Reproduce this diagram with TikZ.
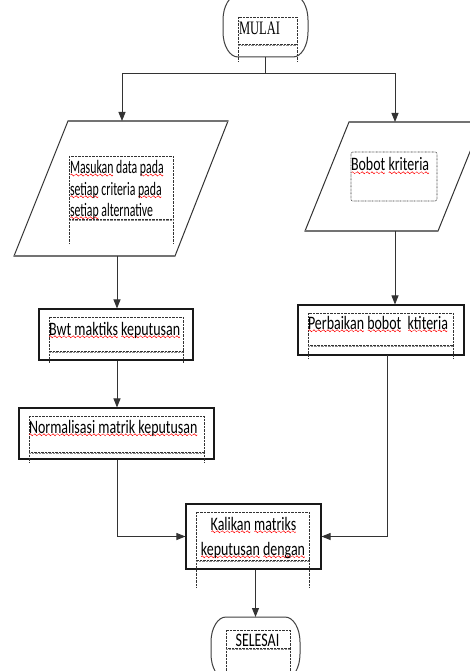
\documentclass[tikz,border=0pt]{standalone}
\usepackage{fontspec}
\usetikzlibrary{arrows.meta}
\newfontfamily\wsans[FakeStretch=0.735]{Carlito}
\newfontfamily\wsansn[FakeStretch=0.62]{Carlito}
\newfontfamily\wserif[FakeStretch=0.66]{Liberation Serif}
\newsavebox\wavebox
\newsavebox\sqbox
\newcommand\sq[1]{\sbox\sqbox{#1}\rlap{\raisebox{-3pt}[0pt][0pt]{\hbox to \wd\sqbox{\xleaders\copy\wavebox\hfill}}}\usebox\sqbox}
\newcommand\wtbox[5]{%
  \draw[dotbox] (#1,#2) rectangle (#3,#4);
  \draw[dotbox] (#1,#4) -- (#1,#5) (#3,#4) -- (#3,#5);
  \draw[dotbox,black!45,line width=1pt] (#1,#4+1.5) -- (#3,#4+1.5);}
\tikzset{
  box/.style={draw=black!90, line width=1.1pt, inner sep=0, fill=none},
  ghost/.style={inner sep=0, outer sep=0},
  para/.style={draw=black!80, line width=1pt, line join=miter},
  term/.style={draw=black!75, line width=1pt},
  conn/.style={draw=black!80, line width=0.9pt},
  arr/.style={conn, -{Triangle[length=9pt,width=7pt]}},
  dotbox/.style={draw=black!80, line width=0.6pt, dash pattern=on 0.7pt off 0.7pt},
  txt/.style={inner sep=0, outer sep=0, anchor=base west, font=\wsans\fontsize{19}{21}\selectfont},
  ntxt/.style={txt, font=\wsansn\fontsize{19}{21}\selectfont},
  ctxt/.style={txt, anchor=base}
}
\begin{document}
\sbox\wavebox{\pgfpicture\pgfsetlinewidth{0.5pt}\pgfsetstrokecolor{red}\pgfpathmoveto{\pgfpoint{0pt}{0pt}}\pgfpathlineto{\pgfpoint{1pt}{1pt}}\pgfpathlineto{\pgfpoint{3pt}{-1pt}}\pgfpathlineto{\pgfpoint{4pt}{0pt}}\pgfusepath{stroke}\endpgfpicture}%
\begin{tikzpicture}[x=1pt,y=-1pt]
\useasboundingbox (0,0) rectangle (470,671);
\clip (0,0) rectangle (470,671);
\fill[white] (0,0) rectangle (470,671);

% MULAI terminal
\node[ghost, minimum width=85, minimum height=62] (mulai) at (265.5,26) {};
\draw[term] (238,-5) -- (293,-5) .. controls (301.28,-5) and (308,6.2) .. (308,20) -- (308,32) .. controls (308,45.8) and (301.28,57) .. (293,57) -- (238,57) .. controls (229.72,57) and (223,45.8) .. (223,32) -- (223,20) .. controls (223,6.2) and (229.72,-5) .. cycle;
\wtbox{238}{17}{297}{44}{61}
\node[txt, font=\wserif\fontsize{19}{21}\selectfont] (mulaitxt) at (239,35) {MULAI};

% parallelograms
\draw[para] (68,121) -- (228,121) -- (175,256) -- (14,256) -- cycle;
\draw[black!55, line width=1.6pt] (68,121) -- (228,121) (175,256) -- (14,256);
\draw[para] (349,122) -- (482,122) -- (438,231) -- (305,231) -- cycle;
\draw[black!55, line width=1.6pt] (349,122) -- (482,122) (438,231) -- (305,231);

\wtbox{69}{156}{173}{219}{243}
\node[ntxt] (in1a) at (70,173.3) {\sq{Masukan} data \sq{pada}};
\node[ntxt] (in1b) at (70,195) {\sq{setiap} criteria \sq{pada}};
\node[ntxt] (in1c) at (70,216) {\sq{setiap} alternative};

\draw[dotbox, rounded corners=2pt] (351,152) rectangle (437,201);
\node[txt] (in2a) at (351,171) {\sq{Bobot} \sq{kriteria}};

% process boxes
\node[box, minimum width=154, minimum height=51] (bwt) at (116,334.5) {};
\wtbox{49}{317}{183}{351}{363}
\node[txt] (bwttxt) at (49,335) {\sq{Bwt maktiks} \sq{keputusan}};

\node[box, minimum width=195, minimum height=51] (norm) at (116.5,433.5) {};
\wtbox{29}{416}{204}{452}{463}
\node[txt] (normtxt) at (29,433) {\sq{Normalisasi matrik keputusan}};

\node[box, minimum width=166, minimum height=50] (perb) at (381,330) {};
\wtbox{308}{313}{453}{345}{358}
\node[txt] (perbtxt) at (308,329) {\sq{Perbaikan} \sq{bobot}\ \ \sq{ktiteria}};

\node[box, minimum width=135, minimum height=65] (kal) at (253.5,536.5) {};
\wtbox{196}{512}{309}{560}{587}
\node[ctxt] (kala) at (253.5,530) {\sq{Kalikan} \sq{matriks}};
\node[ctxt] (kalb) at (253,555) {\sq{keputusan} \sq{dengan}};

% SELESAI terminal
\node[ghost, minimum width=89, minimum height=62] (selesai) at (255.5,648) {};
\draw[term] (226,617) -- (285,617) .. controls (293.28,617) and (300,628.2) .. (300,642) -- (300,654) .. controls (300,667.8) and (293.28,679) .. (285,679) -- (226,679) .. controls (217.72,679) and (211,667.8) .. (211,654) -- (211,642) .. controls (211,628.2) and (217.72,617) .. cycle;
\wtbox{226}{630}{290}{648}{690}
\node[ctxt] (seltxt) at (257.5,646) {SELESAI};

% connectors
\coordinate (j) at (265.5,73);
\coordinate (in1top) at (122,121);
\coordinate (in2top) at (395,122);
\coordinate (in1bot) at (117,256);
\coordinate (in2bot) at (395,231);
\coordinate (pout) at (387,355);
\draw[conn] (mulai.south) -- (j);
\draw[arr] (j) -| (in1top);
\draw[arr] (j) -| (in2top);
\draw[arr] (in1bot) -- (in1bot |- bwt.north);
\draw[arr] (bwt.south -| in1bot) -- (in1bot |- norm.north);
\draw[arr] (norm.south -| in1bot) |- (kal.west);
\draw[arr] (in2bot) -- (in2bot |- perb.north);
\draw[arr] (pout) |- (kal.east);
\draw[arr] (kal.south -| selesai.north) -- (selesai.north);
\end{tikzpicture}
\end{document}
